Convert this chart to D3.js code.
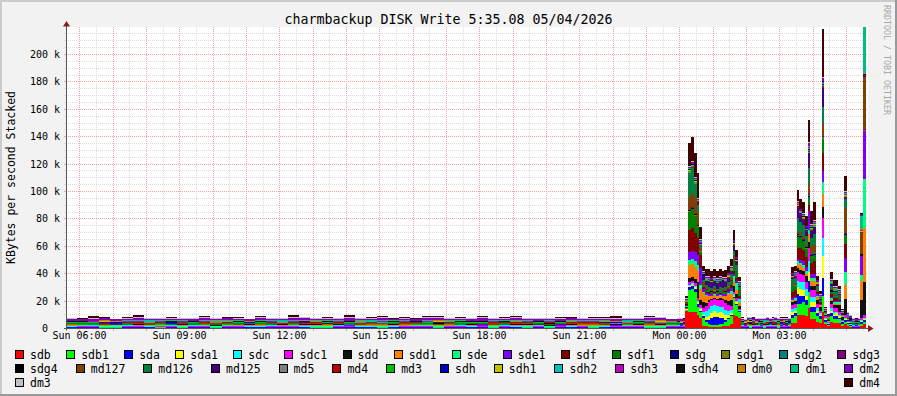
<!DOCTYPE html>
<html><head><meta charset="utf-8">
<script src="https://cdn.jsdelivr.net/npm/d3@7/dist/d3.min.js"></script>
<style>html,body{margin:0;padding:0;background:#f2f2f2}svg{display:block}text{font-family:"DejaVu Sans Mono",monospace}</style>
</head><body><svg id="chart" width="897" height="396"></svg>
<script>
// ---------- chart text ----------
const titleText = "charmbackup DISK Write 5:35.08 05/04/2026";
const yAxisTitle = "KBytes per second Stacked";
const watermark = "RRDTOOL / TOBI OETIKER";
const yTickValues = [0, 20, 40, 60, 80, 100, 120, 140, 160, 180, 200]; // in k
const yMax = 220;
// ---------- series ----------
const seriesNames = ["sdb","sdb1","sda","sda1","sdc","sdc1","sdd","sdd1","sde","sde1","sdf","sdf1","sdg","sdg1","sdg2","sdg3",
  "sdg4","md127","md126","md125","md5","md4","md3","sdh","sdh1","sdh2","sdh3","sdh4","dm0","dm1","dm2","dm3","dm4"];
const seriesColors = ["#FF0000","#00FF00","#0000FF","#FFFF00","#00FFFF","#FF00FF","#111111","#FF8000","#00FF80","#8000FF","#800000","#008000","#000080","#808000","#008080","#800080",
  "#000000","#804000","#008040","#400080","#808080","#C00000","#00C000","#0000C0","#C0C000","#00C0C0","#C000C0","#111111","#C08000","#00C080","#8000C0","#C0C0C0","#400000"];
const legendRows = [
  ["sdb","sdb1","sda","sda1","sdc","sdc1","sdd","sdd1","sde","sde1","sdf","sdf1","sdg","sdg1","sdg2","sdg3"],
  ["sdg4","md127","md126","md125","md5","md4","md3","sdh","sdh1","sdh2","sdh3","sdh4","dm0","dm1","dm2"],
  ["dm3"]];
const legendRight = ["dm4"];
// time sampling: Sun 05:35 -> 23:55 every 20 min (55 samples), then 23:55 -> Mon 05:35 every 5 min (68 samples)
const startTime = new Date(2026, 4, 3, 5, 35);
const coarseStep = 20, coarseCount = 55, fineStep = 5, fineCount = 68;
// values in k (thousands of KBytes/s)
const sdb = [
 .4,.3,.4,.5,.4,.3,.4,.4,.5,.3,.4, .4,.3,.5,.4,.4,.3,.4,.5,.4,.3,.4, .4,.5,.4,.3,.4,.4,.5,.4,.3,.4,.4, .5,.4,.3,.4,.4,.5,.3,.4,.4,.4,.5, .3,.4,.4,.5,.4,.3,.4,.4,.5,.4,.3,
 .4,.3,.4,13,12,12,12,10,8,2, 1.5,1,1,1,1,1,1.5,1.5,2,3, 10,9,8,.4,.3,.4,.5,.3,.4,.4, .3,.5,.4,.3,.4,.4,.5,.3,.4,.4, .3,4,4,10,10,10,9,15,7,7, 5,4,12,3,1.5,5,4,4,4,2, 3,2,1,.4,.3,.4,2,3];
const sdb1 = [
 .3,.3,.2,.3,.4,.3,.3,.2,.3,.3,.4, .3,.2,.3,.3,.3,.4,.3,.2,.3,.3,.3, .4,.3,.3,.2,.3,.3,.4,.3,.3,.2,.3, .3,.3,.4,.3,.2,.3,.3,.3,.4,.3,.3, .2,.3,.3,.4,.3,.3,.2,.3,.3,.4,.3,
 .3,.3,.2,.5,16,17,15,6,4,6, 3,2,1.5,1.5,1.5,2,2,3,5,6, 12,8,4,.3,.2,.3,.3,.4,.3,.2, .3,.3,.3,.4,.2,.3,.3,.3,.2,.3, .4,4,5,8,8,9,8,12,5,5, 4,3,12,2,1,4,3,3,3,1.5, 2,1.5,.8,.3,.3,.2,1.5,2];
const sda = [
 .3,.2,.3,.3,.2,.3,.3,.3,.2,.3,.3, .2,.3,.3,.3,.2,.3,.3,.2,.3,.3,.3, .3,.3,.2,.3,.3,.3,.2,.3,.3,.2,.3, .3,.2,.3,.3,.3,.2,.3,.3,.3,.2,.3, .3,.3,.2,.3,.3,.2,.3,.3,.3,.2,.3,
 .3,.2,.3,.3,2,2,2,2,1,1, 2,3,5,6,6,5,4,2,1,1, 1,1,.5,.3,.3,.2,.3,.3,.2,.3, .3,.3,.2,.3,.3,.2,.3,.3,.3,.2, .3,2,2,7,6,5,4,8,4,4, 2,2,13,1,.5,2,2,2,1,1, 1,.5,.4,.3,.2,.3,1,1];
const sda1 = [
 .2,.3,.2,.2,.3,.2,.2,.3,.2,.2,.3, .2,.2,.3,.2,.2,.3,.2,.2,.2,.3,.2, .3,.2,.2,.2,.3,.2,.2,.3,.2,.2,.2, .2,.3,.2,.2,.2,.3,.2,.2,.3,.2,.2, .2,.2,.3,.2,.2,.2,.3,.2,.2,.3,.2,
 .2,.2,.2,.3,1,1,1,1,1,1, 2,3,4,4,3,4,4,3,2,1.5, 1,1,.5,.2,.2,.3,.2,.2,.2,.3, .2,.2,.2,.2,.3,.2,.2,.2,.3,.2, .2,2,2,5,5,4,3,6,3,3, 2,1,16,1,.5,2,1,2,1,.5, 1,.5,.4,.2,.2,.2,1,1];
const sdc = [
 .3,.2,.2,.3,.2,.2,.2,.3,.2,.3,.2, .2,.3,.2,.2,.3,.2,.3,.2,.2,.2,.3, .2,.2,.3,.2,.2,.3,.2,.2,.3,.2,.2, .3,.2,.2,.3,.2,.2,.2,.3,.2,.2,.3, .2,.3,.2,.2,.3,.2,.2,.2,.3,.2,.2,
 .2,.2,.2,.3,1,1,1,1,1,2, 4,5,5,5,5,4,4,4,3,2, 1,1,.5,.2,.2,.2,.3,.2,.2,.2, .2,.3,.2,.2,.2,.2,.3,.2,.2,.2, .2,2,2,5,5,6,5,8,4,4, 2,1,13,1,.5,2,2,1,1,.5, 1,.5,.4,.2,.2,.2,1,1];
const sdc1 = [
 .3,.4,.3,.3,.2,.3,.4,.3,.3,.3,.2, .3,.3,.4,.3,.3,.2,.3,.3,.4,.3,.3, .2,.3,.3,.3,.4,.3,.2,.3,.3,.4,.3, .3,.3,.2,.4,.3,.3,.3,.2,.3,.3,.4, .3,.2,.3,.3,.4,.3,.3,.3,.2,.3,.3,
 .3,.3,.3,.3,2,2,2,2,2,3, 4,5,4,4,4,5,5,5,4,3, 2,2,1,.3,.3,.2,.3,.4,.3,.3, .3,.2,.3,.3,.4,.3,.3,.2,.3,.3, .3,3,3,6,6,5,5,10,5,5, 3,2,15,1,.5,3,3,3,2,1, 1.5,.5,.5,.3,.3,.3,1.5,2];
const sdd = [
 .2,.2,.3,.2,.2,.2,.2,.3,.2,.2,.2, .3,.2,.2,.2,.2,.3,.2,.2,.2,.2,.3, .2,.2,.2,.3,.2,.2,.2,.2,.3,.2,.2, .2,.3,.2,.2,.2,.2,.3,.2,.2,.2,.2, .2,.2,.3,.2,.2,.2,.2,.3,.2,.2,.2,
 .2,.2,.2,1,3,2.5,3,12,4,4, 2,1.5,1,1,1,1,1,2,3,4, 4,3,2,.2,.2,.2,.2,.3,.2,.2, .2,.2,.2,.2,.3,.2,.2,.2,.2,.2, .2,2,2,3,3,3,4,4,3,3, 3,3,8,1,.5,2,2,2,5,2, 12,1,.6,.2,.2,.2,13,24];
const sdd1 = [
 .2,.2,.2,.3,.2,.2,.3,.2,.2,.2,.3, .2,.2,.2,.2,.3,.2,.2,.2,.3,.2,.2, .3,.2,.2,.2,.2,.2,.3,.2,.2,.3,.2, .2,.2,.3,.2,.2,.2,.2,.3,.2,.2,.2, .2,.3,.2,.2,.2,.3,.2,.2,.2,.2,.3,
 .2,.2,.2,.2,9,9.5,9,8,8,7, 5,3,2,2,2,2,2,3,5,5, 3,3,2,.2,.2,.2,.3,.2,.2,.2, .2,.3,.2,.2,.2,.2,.2,.2,.3,.2, .2,1,1,3,3,2,2,6,4,4, 2,1,9,.2,.2,1,1,1,1,.2, 10,.2,.2,.2,.2,.2,14,39];
const sde = [
 .2,.1,.2,.2,.1,.2,.1,.2,.2,.1,.2, .1,.2,.2,.1,.2,.2,.1,.2,.1,.2,.2, .2,.1,.2,.1,.2,.2,.2,.1,.2,.1,.2, .2,.2,.1,.2,.1,.2,.2,.1,.2,.2,.1, .1,.2,.2,.1,.2,.1,.2,.2,.1,.2,.2,
 .2,.1,.2,.2,4,3.5,4,4,3,1, 1,.5,.5,.5,.5,.5,.5,.5,1,2, 4,5,3,.2,.1,.2,.2,.1,.2,.2, .1,.2,.2,.1,.2,.2,.1,.2,.2,.1, .2,1,1,2,2,2,2,3,2,2, 1,.5,9,.2,.2,1,1,1,1,.2, 10,.2,.2,.1,.2,.2,4,36];
const sde1 = [
 .2,.2,.1,.2,.2,.2,.3,.2,.1,.2,.2, .2,.3,.2,.2,.1,.2,.2,.2,.3,.2,.2, .1,.2,.2,.3,.2,.2,.1,.2,.2,.2,.3, .2,.2,.2,.1,.2,.3,.2,.2,.2,.1,.2, .3,.2,.2,.2,.2,.1,.2,.3,.2,.2,.2,
 .2,.2,.2,.2,6,6,7,8,12,2, 1.5,1.5,1,1,1,1,1,1,1.5,2, 2,2,1,.2,.2,.3,.2,.2,.1,.2, .2,.2,.3,.2,.2,.1,.2,.2,.3,.2, .2,1,1,2,2,3,3,14,3,3, 1,.5,8,.2,.2,1,1,1,1,.2, 10,.2,.2,.2,.2,.2,14,35];
const sdf = [
 .1,.1,.2,.1,.1,.1,.1,.2,.1,.1,.1, .1,.2,.1,.1,.1,.1,.2,.1,.1,.1,.1, .2,.1,.1,.1,.2,.1,.1,.1,.1,.2,.1, .1,.1,.1,.2,.1,.1,.1,.2,.1,.1,.1, .1,.2,.1,.1,.1,.2,.1,.1,.1,.1,.2,
 .1,.1,.1,1,16,17,14,12,10,1, 1,1,.5,.5,.5,.5,.5,.5,1,2, 2,2,1,.1,.1,.2,.1,.1,.1,.1, .2,.1,.1,.1,.1,.2,.1,.1,.1,.1, .1,5,5,8,9,8,7,4,8,9, 2,1,13,.1,.1,2,2,2,1,.1, 10,.1,.1,.1,.2,.1,.1,.1];
const sdf1 = [
 .1,.2,.1,.1,.1,.1,.1,.1,.2,.1,.1, .1,.1,.1,.2,.1,.1,.1,.1,.1,.2,.1, .1,.1,.2,.1,.1,.1,.1,.2,.1,.1,.1, .2,.1,.1,.1,.1,.2,.1,.1,.1,.1,.2, .1,.1,.1,.1,.2,.1,.1,.1,.2,.1,.1,
 .1,.1,.1,.1,13,14,12,8,2,1.5, 1,1,1,1,1,1.5,1,1.5,2,3, 8,5,3,.1,.1,.1,.2,.1,.1,.1, .1,.1,.2,.1,.1,.1,.1,.2,.1,.1, .1,3,3,8,8,7,6,6,5,5, 1,.5,10,.1,.1,2,1,1,1,.1, 7,.1,.1,.1,.1,.2,.1,.1];
const sdg = [
 .1,.2,.1,.2,.1,.1,.2,.1,.2,.1,.1, .2,.1,.1,.2,.1,.2,.1,.1,.2,.1,.2, .1,.1,.2,.1,.2,.1,.1,.2,.1,.2,.1, .2,.1,.2,.1,.1,.2,.1,.2,.1,.1,.2, .1,.2,.1,.1,.2,.1,.2,.1,.1,.2,.1,
 .1,.2,.1,.2,.3,.3,.3,.3,.2,.1, .2,.1,.1,.2,.1,.1,.2,.1,.1,.2, .2,.2,.1,.1,.2,.1,.1,.2,.1,.2, .1,.1,.2,.1,.2,.1,.1,.2,.1,.1, .2,.2,.2,.4,.3,.3,.3,.5,.3,.3, .2,.1,.6,.1,.1,.2,.2,.2,.2,.1, .3,.1,.1,.2,.1,.2,.2,.3];
const sdg1 = [
 .1,.1,.1,.2,.1,.1,.1,.1,.1,.2,.1, .1,.1,.2,.1,.1,.1,.1,.2,.1,.1,.1, .1,.2,.1,.1,.1,.1,.2,.1,.1,.1,.1, .1,.1,.1,.1,.2,.1,.1,.1,.1,.2,.1, .2,.1,.1,.1,.1,.1,.2,.1,.1,.1,.1,
 .1,.1,.2,.1,.2,.2,.2,.2,.1,.1, .1,.1,.1,.1,.1,.1,.1,.1,.1,.1, .1,.1,.1,.1,.2,.1,.1,.1,.1,.2, .1,.1,.1,.2,.1,.1,.1,.1,.2,.1, .1,.2,.2,.3,.3,.2,.2,.4,.2,.2, .1,.1,.5,.1,.1,.1,.1,.1,.1,.1, .2,.1,.1,.1,.1,.2,.1,.2];
const sdg2 = [
 .1,.2,.1,.1,.1,.2,.1,.1,.1,.1,.1, .2,.1,.1,.1,.1,.1,.2,.1,.1,.1,.2, .1,.1,.1,.2,.1,.1,.1,.1,.2,.1,.1, .1,.2,.1,.1,.1,.1,.1,.2,.1,.1,.1, .1,.1,.1,.2,.1,.1,.1,.1,.1,.2,.1,
 .1,.2,.1,.1,.3,.3,.3,.2,.2,.1, .1,.1,.1,.1,.1,.1,.1,.1,.1,.2, .2,.1,.1,.1,.1,.2,.1,.1,.1,.1, .2,.1,.1,.1,.1,.1,.2,.1,.1,.1, .1,.3,.3,.4,.4,.3,.3,.5,.3,.3, .2,.1,.6,.1,.1,.2,.2,.2,.1,.1, .3,.1,.1,.1,.2,.1,.3,.4];
const sdg3 = [
 .2,.1,.1,.2,.1,.2,.1,.1,.2,.1,.1, .1,.2,.1,.1,.2,.1,.1,.2,.1,.2,.1, .2,.1,.2,.1,.1,.2,.1,.1,.2,.1,.2, .1,.1,.2,.1,.2,.1,.2,.1,.1,.2,.1, .2,.1,.1,.2,.1,.1,.2,.1,.2,.1,.1,
 .2,.1,.1,.2,.3,.3,.3,.3,.2,.2, .2,.2,.2,.2,.2,.2,.2,.2,.2,.2, .2,.2,.1,.2,.1,.1,.2,.1,.2,.1, .1,.2,.1,.1,.2,.1,.2,.1,.1,.2, .1,.2,.2,.4,.3,.3,.3,.5,.3,.3, .2,.1,.5,.1,.1,.2,.2,.2,.1,.1, .3,.1,.1,.2,.1,.1,.2,.3];
const sdg4 = [
 .1,.1,.1,.1,.2,.1,.1,.2,.1,.1,.1, .1,.2,.1,.1,.1,.1,.1,.1,.2,.1,.1, .1,.1,.1,.2,.1,.1,.2,.1,.1,.1,.1, .2,.1,.1,.1,.1,.1,.1,.2,.1,.1,.2, .1,.1,.2,.1,.1,.2,.1,.1,.1,.1,.1,
 .1,.1,.1,.1,.2,.2,.2,.2,.1,.1, .1,.1,.1,.1,.1,.1,.1,.1,.1,.1, .1,.1,.1,.1,.1,.2,.1,.1,.1,.1, .1,.1,.2,.1,.1,.1,.1,.1,.2,.1, .1,.1,.1,.2,.2,.2,.2,.3,.2,.2, .1,.1,.4,.1,.1,.1,.1,.1,.1,.1, .2,.1,.1,.1,.1,.1,.2,.2];
const md127 = [
 .2,.2,.3,.2,.1,.2,.2,.3,.2,.2,.1, .2,.3,.2,.2,.2,.1,.2,.2,.3,.2,.2, .2,.1,.2,.3,.2,.2,.2,.1,.2,.3,.2, .3,.2,.2,.1,.2,.2,.3,.2,.2,.2,.1, .2,.2,.3,.2,.2,.1,.2,.2,.2,.3,.2,
 .2,.2,.2,.2,10,10,12,10,2,1.5, 1.5,1,1,1,1,1,1,1,1,1.5, 2,1,1,.2,.2,.3,.2,.2,.1,.2, .2,.2,.3,.2,.2,.2,.1,.2,.2,.3, .2,1,1,2,2,2,2,7,6,6, 1,.5,9,.2,.2,1,1,1,1,.2, 18,.2,.2,.2,.2,.2,15,38];
const md126 = [
 .2,.3,.2,.2,.2,.4,.2,.2,.3,.2,.2, .3,.2,.2,.4,.2,.2,.2,.3,.2,.2,.4, .2,.2,.3,.2,.2,.2,.4,.2,.3,.2,.2, .2,.4,.2,.2,.3,.2,.2,.2,.2,.4,.2, .3,.2,.2,.2,.4,.2,.3,.2,.2,.2,.3,
 .2,.3,.2,.2,17,18,10,5,2,1.5, 1.5,1.5,1.5,1.5,1,1.5,1.5,1.5,2,3, 4,3,2,.2,.2,.4,.2,.2,.3,.2, .2,.4,.2,.2,.2,.3,.2,.2,.4,.2, .2,4,4,10,7,8,6,12,6,8, 1,.5,12,.2,.2,2,1.5,1.5,1,.2, 7,.2,.2,.3,.2,.2,.2,.2];
const md125 = [
 .2,.2,.2,.3,.2,.2,.3,.2,.2,.2,.3, .2,.2,.3,.2,.2,.2,.2,.3,.2,.2,.2, .3,.2,.2,.2,.3,.2,.2,.2,.2,.3,.2, .2,.2,.2,.3,.2,.2,.3,.2,.2,.2,.2, .2,.3,.2,.2,.2,.2,.3,.2,.2,.3,.2,
 .2,.2,.2,.2,.5,.5,.5,.5,.5,3, 3,4,4,4,4,4,4,4,3,2, 4,2,1,.2,.2,.2,.3,.2,.2,.2, .3,.2,.2,.2,.2,.3,.2,.2,.2,.3, .2,1,1,7,5,4,3,11,5,5, 1,.5,14,.2,.2,1.5,1,1,.5,.2, .5,.2,.2,.2,.3,.2,.2,.2];
const md5 = [
 .1,.1,.2,.1,.1,.1,.1,.1,.2,.1,.1, .1,.1,.1,.1,.2,.1,.1,.1,.1,.1,.2, .1,.2,.1,.1,.1,.1,.2,.1,.1,.1,.1, .1,.1,.1,.2,.1,.1,.1,.1,.2,.1,.1, .2,.1,.1,.1,.1,.2,.1,.1,.1,.1,.1,
 .1,.1,.1,.1,.2,.2,.2,.2,.1,.1, .1,.1,.1,.1,.1,.1,.1,.1,.1,.1, .1,.1,.1,.1,.1,.1,.2,.1,.1,.1, .1,.1,.1,.1,.1,.2,.1,.1,.1,.1, .1,.1,.1,.2,.2,.2,.2,.3,.2,.2, .1,.1,.3,.1,.1,.1,.1,.1,.1,.1, .2,.1,.1,.1,.1,.1,.1,.2];
const md4 = [
 .2,.1,.2,.2,.3,.2,.1,.2,.2,.2,.3, .1,.2,.2,.3,.2,.2,.1,.2,.2,.3,.2, .2,.2,.1,.2,.2,.3,.2,.2,.1,.2,.2, .3,.2,.2,.1,.2,.2,.2,.3,.2,.1,.2, .2,.3,.2,.2,.1,.2,.2,.2,.3,.2,.1,
 .2,.2,.1,.2,.4,.4,.4,.4,.3,.2, .2,.2,.2,.2,.2,.2,.2,.2,.2,.3, .4,.3,.2,.2,.1,.2,.2,.3,.2,.2, .2,.1,.2,.2,.2,.3,.2,.2,.1,.2, .2,.3,.3,.6,.6,.5,.5,1,.5,.5, .3,.2,1,.2,.2,.3,.3,.3,.2,.2, .6,.2,.2,.2,.2,.2,.4,.5];
const md3 = [
 .1,.2,.2,.2,.1,.2,.2,.1,.2,.2,.2, .2,.1,.2,.2,.2,.1,.2,.2,.1,.2,.2, .2,.2,.1,.2,.2,.2,.1,.2,.2,.1,.2, .2,.2,.2,.1,.2,.2,.1,.2,.2,.2,.1, .1,.2,.2,.2,.1,.2,.2,.2,.1,.2,.2,
 .2,.1,.2,.2,.4,.4,.4,.4,.3,.2, .2,.2,.2,.2,.2,.2,.2,.2,.2,.3, .4,.3,.2,.2,.2,.1,.2,.2,.2,.1, .2,.2,.2,.1,.2,.2,.2,.1,.2,.2, .1,.3,.3,.5,.5,.5,.5,.8,.5,.5, .3,.2,.8,.2,.2,.3,.3,.3,.2,.2, .5,.2,.2,.1,.2,.2,.4,.5];
const sdh = [
 .2,.1,.2,.1,.2,.1,.2,.2,.1,.2,.1, .1,.2,.1,.2,.2,.1,.2,.1,.2,.1,.2, .2,.2,.1,.2,.1,.2,.1,.2,.2,.1,.2, .1,.2,.2,.1,.2,.1,.2,.1,.2,.2,.1, .2,.1,.2,.2,.1,.2,.1,.2,.1,.2,.2,
 .2,.1,.2,.2,.3,.3,.3,.3,.2,.2, .2,.2,.2,.2,.2,.2,.2,.2,.2,.2, .3,.2,.2,.1,.2,.2,.1,.2,.1,.2, .2,.1,.2,.2,.1,.2,.1,.2,.2,.1, .2,.2,.2,.4,.4,.3,.3,.5,.3,.3, .2,.2,.6,.1,.1,.2,.2,.2,.2,.1, .4,.1,.2,.2,.1,.2,.3,.4];
const sdh1 = [
 .1,.2,.2,.1,.2,.2,.1,.2,.1,.2,.2, .2,.1,.2,.1,.2,.1,.2,.2,.1,.2,.1, .1,.2,.2,.2,.1,.2,.2,.1,.2,.1,.2, .2,.1,.2,.2,.1,.2,.1,.2,.2,.1,.2, .2,.2,.1,.2,.2,.1,.2,.1,.2,.2,.1,
 .1,.2,.2,.2,.3,.3,.3,.3,.2,.2, .2,.2,.2,.2,.2,.2,.2,.2,.2,.2, .2,.2,.2,.2,.1,.2,.2,.1,.2,.2, .1,.2,.2,.1,.2,.2,.2,.1,.2,.1, .2,.2,.2,.4,.3,.3,.3,.5,.3,.3, .2,.2,.5,.1,.1,.2,.2,.2,.2,.1, .3,.2,.1,.2,.2,.1,.3,.3];
const sdh2 = [
 .2,.2,.1,.2,.1,.2,.2,.1,.2,.2,.1, .1,.2,.2,.2,.1,.2,.1,.2,.2,.1,.2, .2,.1,.2,.1,.2,.2,.1,.2,.1,.2,.2, .2,.2,.1,.2,.2,.1,.2,.2,.1,.2,.1, .1,.2,.2,.1,.2,.2,.2,.1,.2,.1,.2,
 .2,.2,.1,.2,.3,.3,.3,.3,.2,.2, .2,.2,.2,.2,.2,.2,.2,.2,.2,.2, .2,.2,.2,.1,.2,.2,.2,.1,.2,.1, .2,.2,.1,.2,.1,.2,.2,.2,.1,.2, .2,.2,.2,.4,.3,.3,.3,.5,.3,.3, .2,.2,.5,.1,.1,.2,.2,.2,.2,.1, .3,.1,.2,.2,.1,.2,.3,.3];
const sdh3 = [
 .2,.1,.2,.2,.2,.1,.2,.1,.2,.2,.2, .2,.2,.1,.2,.1,.2,.2,.2,.1,.2,.1, .1,.2,.2,.1,.2,.1,.2,.2,.2,.1,.2, .2,.1,.2,.2,.2,.2,.1,.2,.1,.2,.2, .2,.2,.2,.1,.2,.1,.2,.2,.2,.2,.1,
 .2,.1,.2,.2,.3,.3,.3,.3,.2,.2, .2,.2,.2,.2,.2,.2,.2,.2,.2,.2, .2,.2,.2,.2,.2,.1,.2,.2,.2,.1, .2,.1,.2,.2,.2,.2,.1,.2,.2,.2, .1,.2,.2,.4,.3,.3,.3,.5,.3,.3, .2,.2,.5,.1,.1,.2,.2,.2,.2,.1, .3,.2,.2,.2,.2,.1,.3,.3];
const sdh4 = [
 .1,.2,.1,.2,.2,.2,.1,.2,.2,.1,.2, .2,.1,.2,.2,.1,.2,.2,.1,.2,.2,.2, .2,.2,.2,.1,.2,.2,.1,.2,.1,.2,.2, .1,.2,.2,.2,.1,.2,.2,.2,.2,.1,.2, .2,.2,.1,.2,.2,.2,.1,.2,.2,.2,.1,
 .1,.2,.2,.2,.3,.3,.3,.3,.2,.2, .2,.2,.2,.2,.2,.2,.2,.2,.2,.2, .2,.2,.2,.2,.1,.2,.2,.2,.1,.2, .2,.2,.1,.2,.2,.2,.2,.1,.2,.2, .2,.2,.2,.4,.3,.3,.3,.5,.3,.3, .2,.2,.5,.1,.1,.2,.2,.2,.2,.1, .3,.2,.2,.1,.2,.2,.3,.3];
const dm0 = [
 .3,.3,.2,.4,.3,.3,.3,.2,.3,.4,.3, .3,.2,.3,.3,.4,.3,.3,.3,.2,.3,.4, .4,.3,.3,.2,.3,.3,.4,.3,.3,.3,.2, .3,.4,.3,.3,.3,.2,.3,.4,.3,.3,.3, .2,.3,.4,.3,.3,.3,.2,.3,.3,.4,.3,
 .3,.2,.3,.3,.3,.3,.3,.3,.3,.3, .3,.3,.3,.3,.3,.3,.3,.3,.3,.3, .3,.3,.3,.4,.3,.2,.3,.3,.4,.3, .3,.3,.2,.4,.3,.3,.3,.2,.3,.4, .3,.3,.3,.3,.3,.3,.3,.3,.3,.3, .3,.3,.3,.3,.3,.3,.3,.3,.3,.3, .3,.3,.3,.3,.2,.4,.3,.3];
const dm1 = [
 .3,.2,.3,.3,.4,.3,.2,.3,.3,.3,.4, .3,.3,.2,.3,.4,.3,.3,.2,.3,.3,.3, .4,.3,.3,.3,.2,.3,.3,.4,.3,.2,.3, .3,.3,.4,.2,.3,.3,.3,.3,.4,.3,.2, .3,.4,.3,.3,.2,.3,.3,.4,.3,.3,.3,
 .3,.3,.4,.3,.3,.3,.3,.3,.3,.3, .3,.3,.3,.3,.3,.3,.3,.3,.3,.3, .3,.3,.3,.3,.2,.3,.4,.3,.3,.3, .4,.3,.3,.2,.3,.3,.3,.4,.3,.3, .3,.3,.3,.3,.3,.3,.3,.3,.3,.3, .3,.3,.3,.3,.3,.3,.3,.3,.3,.3, .3,.3,.3,.3,.4,.3,10,36];
const dm2 = [
 1.1,.9,1.4,1,.8,1.2,1.6,.9,1,1.3,.9, 1,1.5,.8,1.1,1.2,.9,1.4,1,.9,1.6,1.1, .9,1.2,1,1.7,.9,1.1,1.3,.8,1.2,1,1.5, 1.2,.9,1.1,1,1.6,.9,1.2,1.4,.9,1.1,1, 1.3,1,.9,1.2,1.1,1.5,.9,1,1.3,1.1,.9,
 1,1.2,.9,1,1,1,1,1,1,1, 1,1,1,1,1,1,1,1,1,1, 1,1,1,1.3,.9,1.1,1,1.4,.9,1.2, 1,.9,1.3,1.1,.8,1.2,1,1.5,.9,1.1, 1,1,1,1,1,1,1,2,1,1, 1,1,2,1,1,1,1,1,1,1, 1,1,1,1.2,.9,1.1,1,1];
const dm3 = [
 .6,.4,.8,.5,.3,.7,.9,.4,.5,.6,.3, .5,.8,.4,.6,.7,.3,.9,.5,.4,1,.6, .4,.7,.5,1,.4,.6,.8,.3,.7,.5,.9, .7,.4,.6,.5,.9,.4,.7,.8,.4,.6,.5, .8,.5,.4,.7,.6,.9,.4,.5,.8,.6,.4,
 .5,.7,.4,.5,.5,.5,.5,.5,.5,.5, .5,.5,.5,.5,.5,.5,.5,.5,.5,.5, .5,.5,.5,.6,.4,.8,.5,.3,.7,.5, .6,.4,.9,.5,.4,.7,.5,.6,.3,.8, .5,.5,.5,.5,.5,.5,.5,.5,.5,.5, .5,.5,.5,.5,.5,.5,.5,.5,.5,.5, .5,.5,.5,.6,.4,.7,.5,.5];
const dm4 = [
 .3,.2,.9,.3,.2,.4,1.2,.3,.2,.6,.3, .2,.8,.3,.4,.6,.2,1,.3,.2,1.4,.4, .3,.5,.2,1.1,.3,.4,.7,.2,.6,.3,.9, .5,.2,.4,.3,1,.2,.6,.8,.3,.4,.2, .7,.3,.2,.5,.4,1.1,.2,.3,.8,.4,.2,
 .3,.4,.2,1.5,17,18,18,18,9,4, 5,5,5,5,5.5,5,5,5,5,5, 7,5,3,.3,.2,.6,.3,.9,.2,.4, .3,.5,.2,.3,1,.3,.2,.4,.7,.3, .2,4,4,8,7,8,7,16,10,13, 3,2,35,1,.5,5,4,4,2,.5, 11,.5,.4,.3,.6,.2,.5,3];
const seriesValues = [sdb,sdb1,sda,sda1,sdc,sdc1,sdd,sdd1,sde,sde1,sdf,sdf1,sdg,sdg1,sdg2,sdg3,
  sdg4,md127,md126,md125,md5,md4,md3,sdh,sdh1,sdh2,sdh3,sdh4,dm0,dm1,dm2,dm3,dm4];

// ---------- build ----------
const W = 897, H = 396;
const X0 = 66, X1 = 866, Y0 = 328.5, YTOP = 27.1;
const svg = d3.select("#chart");
const nSteps = coarseCount + fineCount;
seriesValues.forEach((a, i) => { if (a.length !== nSteps) console.error(seriesNames[i] + " length " + a.length); });

const bounds = [];
for (let i = 0; i <= coarseCount; i++) bounds.push(d3.timeMinute.offset(startTime, i * coarseStep));
for (let j = 1; j <= fineCount; j++) bounds.push(d3.timeMinute.offset(bounds[coarseCount], j * fineStep));
const endTime = bounds[bounds.length - 1];

const rows = d3.range(nSteps).map(i => {
  const r = { t0: bounds[i], t1: bounds[i + 1] };
  seriesNames.forEach((n, s) => { r[n] = seriesValues[s][i] || 0; });
  return r;
});

const x = d3.scaleTime().domain([startTime, endTime]).range([X0, X1]);
const y = d3.scaleLinear().domain([0, yMax]).range([Y0, YTOP]);
const color = d3.scaleOrdinal().domain(seriesNames).range(seriesColors);

// background + frame
svg.append("rect").attr("width", W).attr("height", H).attr("fill", "#f2f2f2");
svg.append("path").attr("d", `M0,1 H${W} M1,0 V${H}`).attr("stroke", "#cbcbcb").attr("stroke-width", 2);
svg.append("path").attr("d", `M0,${H-1} H${W} M${W-1},0 V${H}`).attr("stroke", "#999999").attr("stroke-width", 2);
// canvas
svg.append("rect").attr("x", X0).attr("y", 27).attr("width", 802).attr("height", Y0 - 27).attr("fill", "#ffffff");

const grid = svg.append("g").attr("shape-rendering", "crispEdges");
const px = v => Math.floor(v) + 0.5;
const minorCol = "#dcdcdc", majorCol = "#f3a3a3";
// horizontal grid
d3.range(5, yMax, 5).forEach(v => {
  const major = v % 20 === 0;
  const yy = px(y(v));
  const c = major ? majorCol : minorCol;
  grid.append("line").attr("x1", X0 - 2).attr("x2", X1 + 2).attr("y1", yy).attr("y2", yy)
    .attr("stroke", c).attr("stroke-dasharray", "1,1");
  grid.append("line").attr("x1", X0 - 2).attr("x2", X0).attr("y1", yy).attr("y2", yy).attr("stroke", c);
});
// vertical grid
d3.timeMinute.every(30).range(startTime, endTime).forEach(t => {
  const major = t.getMinutes() === 0;
  const xx = px(x(t));
  const c = major ? majorCol : minorCol;
  grid.append("line").attr("x1", xx).attr("x2", xx).attr("y1", 27).attr("y2", Y0 + 2)
    .attr("stroke", c).attr("stroke-dasharray", "1,1");
  grid.append("line").attr("x1", xx).attr("x2", xx).attr("y1", Y0).attr("y2", Y0 + 2).attr("stroke", c);
});

// stacked data
svg.append("clipPath").attr("id", "plotclip").append("rect")
  .attr("x", X0).attr("y", YTOP).attr("width", X1 - X0 + 1).attr("height", Y0 - YTOP);
const stacked = d3.stack().keys(seriesNames)(rows);
const plot = svg.append("g").attr("clip-path", "url(#plotclip)").attr("shape-rendering", "crispEdges");
stacked.forEach(layer => {
  plot.append("g").attr("fill", color(layer.key))
    .selectAll("rect").data(layer).join("rect")
    .attr("x", d => Math.round(x(d.data.t0)))
    .attr("width", d => Math.round(x(d.data.t1)) - Math.round(x(d.data.t0)))
    .attr("y", d => y(d[1]))
    .attr("height", d => Math.max(0, y(d[0]) - y(d[1])));
});

// axes
const axisCol = "#555555", arrowCol = "#8b1a1a";
svg.append("line").attr("x1", X0 + 0.5).attr("x2", X0 + 0.5).attr("y1", Y0 + 2).attr("y2", 24).attr("stroke", axisCol);
svg.append("line").attr("x1", X0 - 2).attr("x2", 870).attr("y1", Y0).attr("y2", Y0).attr("stroke", axisCol);
svg.append("path").attr("d", `M${X0 - 3},26.5 L${X0 + 0.5},21 L${X0 + 4},26.5 Z`).attr("fill", arrowCol);
svg.append("path").attr("d", `M868,${Y0 - 3.5} L873.5,${Y0} L868,${Y0 + 3.5} Z`).attr("fill", arrowCol);

// y tick labels
svg.append("g").selectAll("text").data(yTickValues).join("text")
  .attr("x", 30).attr("y", v => px(y(v)) + 3.3)
  .attr("font-size", 10).attr("fill", "#000").attr("xml:space", "preserve").style("white-space", "pre")
  .text(v => v === 0 ? "  0  " : String(v).padStart(3, " ") + " k");
// x tick labels
const xLabelFmt = d3.timeFormat("%a %H:%M");
svg.append("g").selectAll("text").data(d3.timeHour.every(3).range(startTime, endTime)).join("text")
  .attr("x", t => px(x(t))).attr("y", 339.3).attr("text-anchor", "middle")
  .attr("font-size", 10).attr("fill", "#000").text(t => xLabelFmt(t));

// title
svg.append("text").attr("x", 448.5).attr("y", 23.5).attr("text-anchor", "middle")
  .attr("font-size", 13.3).attr("fill", "#000").text(titleText);
// y axis title
svg.append("text").attr("transform", "translate(15,177.5) rotate(-90)").attr("text-anchor", "middle")
  .attr("font-size", 11.5).attr("fill", "#000").text(yAxisTitle);
// watermark
svg.append("text").attr("transform", "translate(884,5) rotate(90)")
  .attr("font-size", 8.3).attr("fill", "#a8a8a8").text(watermark);

// legend
const LX0 = 15, LX1 = 880, rowTop = [350, 364, 378], fs = 11.5;
const leg = svg.append("g");
function legendItem(name, xPos, top) {
  leg.append("rect").attr("x", xPos + 0.5).attr("y", top + 0.5).attr("width", 8).attr("height", 8)
    .attr("fill", color(name)).attr("stroke", "#000").attr("shape-rendering", "crispEdges");
  return leg.append("text").attr("x", xPos + 15).attr("y", top + 8.5).attr("font-size", fs).attr("fill", "#000").text(name);
}
function textWidth(s) {
  const t = leg.append("text").attr("font-size", fs).text(s);
  const w = t.node().getComputedTextLength(); t.remove(); return w;
}
legendRows.forEach((names, r) => {
  const widths = names.map(n => 15 + textWidth(n));
  const total = d3.sum(widths);
  const gap = names.length > 1 && r < 2 ? (LX1 - LX0 - total) / (names.length - 1) : 15.8;
  let cx = LX0;
  names.forEach((n, i) => { legendItem(n, cx, rowTop[r]); cx += widths[i] + gap; });
});
legendRight.forEach(n => { legendItem(n, LX1 - 15 - textWidth(n), rowTop[2]); });
</script></body></html>
